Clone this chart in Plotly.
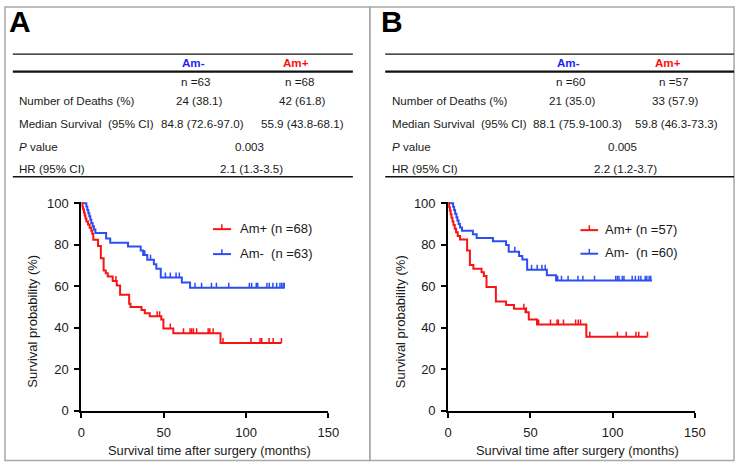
import numpy as np
import plotly.graph_objects as go

W, H = 747, 471
FONT = "Arial, 'Liberation Sans', sans-serif"
RED = "#f81414"
BLUE = "#2d4ef2"
HEAD_BLUE = "#1e1eff"
HEAD_RED = "#ff1010"
TXT = "#1a1a1a"

# ---------------- Panel A data ----------------
a_pos_label = "Am+ (n =68)"
a_neg_label = "Am-\u00a0 (n =63)"
a_pos_time = [0, 0.5, 1, 1.5, 2, 2.5, 3, 4, 5, 6, 6.6, 7.2, 10.1, 11.8, 13.5, 14.8, 16, 19,
              21.5, 23.5, 29, 29.8, 36.5, 38.5, 41.5, 48.5, 49.8, 55.8, 84.5]
a_pos_surv = [100, 98.5, 97.1, 95.6, 94.1, 92.6, 91.2, 89.7, 88.2, 86.8, 85.3, 82.4, 79.4, 73.5,
              67.6, 66.2, 64.7, 62.5, 60.3, 55.9, 51.5, 50.0, 48.5, 47.0, 45.5, 43.9, 39.6, 37.3, 32.6]
a_pos_end = 121.5
a_pos_censor = [21, 46, 47.5, 54, 62, 66, 67, 68, 70, 77, 78, 80, 86, 103, 108.5, 109.5,
                114, 116.5, 121.5]

a_neg_time = [0, 3, 3.6, 4.2, 4.8, 5.4, 6, 6.8, 7.6, 8.5, 15, 17.5, 28.3, 36, 37.5, 40, 44,
              45.5, 48.2, 61, 66]
a_neg_surv = [100, 98.4, 96.8, 95.2, 93.7, 92.1, 90.5, 88.9, 87.3, 85.7, 83.0, 80.9, 79.2,
              77.2, 75.0, 72.8, 70.6, 68.4, 64.2, 61.8, 59.3]
a_neg_end = 123.5
a_neg_censor = [38.5, 42, 51, 54, 57.5, 59.5, 69, 73, 79, 82, 89.5, 102, 103.4, 106.2, 107.1,
                112.7, 114.1, 116.3, 118.6, 120.6, 121.6, 122.6, 123.2]

# ---------------- Panel B data ----------------
b_pos_label = "Am+ (n =57)"
b_neg_label = "Am-\u00a0 (n =60)"
b_pos_time = [0, 0.5, 1, 1.5, 2, 2.6, 3.2, 4, 4.8, 5.8, 7.2, 11.5, 13.2, 15.3, 20.3, 21.7,
              23.3, 29, 35.2, 40, 47, 49, 54, 84]
b_pos_surv = [100, 98.2, 96.5, 94.7, 93.0, 91.2, 89.5, 87.7, 86.0, 84.2, 82.5, 77.2, 70.2,
              68.4, 66.7, 64.9, 59.6, 52.6, 50.9, 49.1, 47.4, 43.9, 41.5, 35.6]
b_pos_end = 121.2
b_pos_censor = [46, 47.5, 55, 62.2, 66.2, 67, 70.1, 77.5, 79.1, 80.5, 86.1, 102.9, 108.3,
                114.2, 115.9, 121.2]

b_neg_time = [0, 3, 3.6, 4.2, 5, 5.6, 6.3, 7.2, 8.4, 15, 17.3, 27.2, 35.2, 36.8, 43.1, 45.1,
              48, 60, 65.6]
b_neg_surv = [100, 98.3, 96.7, 95.0, 93.3, 91.7, 90.0, 88.3, 86.7, 85.0, 83.3, 81.7, 79.9,
              76.6, 74.6, 72.9, 67.9, 65.3, 62.7]
b_neg_end = 124
b_neg_censor = [40.5, 50.7, 54.1, 57, 59, 66.6, 68.9, 72.9, 78.9, 81.9, 89, 101.9, 102.9,
                103.9, 105.9, 106.9, 111.9, 113.8, 115.8, 117.2, 119.8, 120.8, 122.2, 123.2]

# ---------------- Tables ----------------
row_labels = ["Number of Deaths (%)", "Median Survival\u00a0 (95% CI)", "<i>P</i> value", "HR (95% CI)"]
col_heads = ["Am-", "Am+"]
a_neg_col = ["n =63", "24 (38.1)", "84.8 (72.6-97.0)"]
a_pos_col = ["n =68", "42 (61.8)", "55.9 (43.8-68.1)"]
a_common = ["0.003", "2.1 (1.3-3.5)"]
b_neg_col = ["n =60", "21 (35.0)", "88.1 (75.9-100.3)"]
b_pos_col = ["n =57", "33 (57.9)", "59.8 (46.3-73.3)"]
b_common = ["0.005", "2.2 (1.2-3.7)"]

x_ticks = [0, 50, 100, 150]
y_ticks = [0, 20, 40, 60, 80, 100]
x_title = "Survival time after surgery (months)"
y_title = "Survival probability (%)"


def px(x):
    return x / W


def py(y):
    return 1 - y / H


def step_xy(t, s, end):
    return list(t) + [end], list(s) + [s[-1]]


def surv_at(t, s, c):
    idx = np.searchsorted(np.array(t), np.array(c), side="right") - 1
    return list(np.array(s)[idx])


fig = go.Figure()


def add_curve(t, s, end, cens, color, xa, ya):
    x, y = step_xy(t, s, end)
    fig.add_trace(go.Scatter(x=x, y=y, mode="lines", line=dict(color=color, width=2, shape="hv"),
                             xaxis=xa, yaxis=ya, hoverinfo="skip", cliponaxis=False))
    fig.add_trace(go.Scatter(x=cens, y=surv_at(t, s, cens), mode="markers",
                             marker=dict(size=1, color=color, opacity=0),
                             error_y=dict(type="data", symmetric=False, array=[2.4] * len(cens),
                                          arrayminus=[0] * len(cens), width=0, thickness=1.5,
                                          color=color),
                             xaxis=xa, yaxis=ya, hoverinfo="skip", cliponaxis=False))


add_curve(a_neg_time, a_neg_surv, a_neg_end, a_neg_censor, BLUE, "x", "y")
add_curve(a_pos_time, a_pos_surv, a_pos_end, a_pos_censor, RED, "x", "y")
add_curve(b_neg_time, b_neg_surv, b_neg_end, b_neg_censor, BLUE, "x2", "y2")
add_curve(b_pos_time, b_pos_surv, b_pos_end, b_pos_censor, RED, "x2", "y2")

axis_common = dict(showline=True, linecolor="black", linewidth=2, ticks="outside", ticklen=5,
                   tickwidth=2, tickcolor="black", showgrid=False, zeroline=False,
                   tickfont=dict(family=FONT, size=13, color=TXT), fixedrange=True)
ydom = [py(417.0), py(201.6)]
fig.update_layout(
    xaxis=dict(domain=[px(79), px(331)], range=[0, 150], tickvals=x_ticks, anchor="y",
               ticklabelstandoff=4, **axis_common),
    yaxis=dict(domain=ydom, range=[0, 100.8], tickvals=y_ticks, anchor="x",
               ticklabelstandoff=3, **axis_common),
    xaxis2=dict(domain=[px(453.3), px(705)], range=[0, 150], tickvals=x_ticks, anchor="y2",
                ticklabelstandoff=4, **axis_common),
    yaxis2=dict(domain=ydom, range=[0, 100.8], tickvals=y_ticks, anchor="x2",
                ticklabelstandoff=3, **axis_common),
)

shapes = []
annotations = []


def hline(x0, x1, y, w, color="#111"):
    shapes.append(dict(type="line", xref="paper", yref="paper", x0=px(x0), x1=px(x1),
                       y0=py(y), y1=py(y), line=dict(color=color, width=w)))


def text(x, y, s, size=11.6, color=TXT, anchor="center", bold=False, yanchor="middle", angle=0):
    if bold:
        s = "<b>" + s + "</b>"
    if anchor == "left":
        x -= 3
    annotations.append(dict(x=px(x), y=py(y), xref="paper", yref="paper", text=s, showarrow=False,
                            xanchor=anchor, yanchor=yanchor, textangle=angle,
                            font=dict(family=FONT, size=size, color=color)))


# panel borders
shapes.append(dict(type="rect", xref="paper", yref="paper", x0=px(1), x1=px(373.3), y0=py(468.5),
                   y1=py(1), line=dict(color="#a9a9a9", width=1.5)))
shapes.append(dict(type="rect", xref="paper", yref="paper", x0=px(373.3), x1=px(745), y0=py(468.5),
                   y1=py(1), line=dict(color="#a9a9a9", width=1.5)))

row_y = [97.5, 121.5, 145, 167.5]


def table(off, letter, neg, pos, common, neg_x, pos_x, com_x, line_x1):
    text(off + 6, 16, letter, size=30, color="black", anchor="left", bold=True)
    hline(off + 9, line_x1, 49.7, 1.3)
    hline(off + 9, line_x1, 67.7, 2.2)
    hline(off + 9, line_x1, 176.0, 1.5)
    text(neg_x[0], 57.8, col_heads[0], color=HEAD_BLUE, bold=True)
    text(pos_x[0], 57.8, col_heads[1], color=HEAD_RED, bold=True)
    ys = [77.5, 97.5, 121.5]
    for i in range(3):
        text(neg_x[i + 1], ys[i], neg[i])
        text(pos_x[i + 1], ys[i], pos[i])
    for lab, y in zip(row_labels, row_y):
        text(off + 16.5, y, lab, anchor="left")
    text(com_x[0], row_y[2], common[0])
    text(com_x[1], row_y[3], common[1])


table(0, "A", a_neg_col, a_pos_col, a_common, [193.3, 195.3, 199.3, 202.7],
      [297.5, 302.0, 304.6, 305.0], [250.5, 252.8], 356)
table(380, "B", b_neg_col, b_pos_col, b_common, [575.7, 577.8, 580.5, 585.0],
      [677.5, 683.0, 685.0, 686.0], [631.2, 634.3], 745)


def legend(lx0, lx1, tick_x, text_x, y_red, y_blue, pos_lab, neg_lab):
    for y, col, lab in ((y_red, RED, pos_lab), (y_blue, BLUE, neg_lab)):
        shapes.append(dict(type="line", xref="paper", yref="paper", x0=px(lx0), x1=px(lx1),
                           y0=py(y), y1=py(y), line=dict(color=col, width=2)))
        shapes.append(dict(type="line", xref="paper", yref="paper", x0=px(tick_x), x1=px(tick_x),
                           y0=py(y), y1=py(y - 5), line=dict(color=col, width=1.5)))
        text(text_x, y - 1, lab, size=13, anchor="left")


legend(213.3, 231.7, 222.3, 241.5, 230, 255.7, a_pos_label, a_neg_label)
legend(588.3, 606.3, 597.3, 614, 231, 255.3, b_pos_label, b_neg_label)

# axis titles
text(210, 458, x_title, size=12.8)
text(585, 458, x_title, size=12.8)
text(29, 325, y_title, size=13, angle=-90)
text(404, 325, y_title, size=13, angle=-90)

fig.update_layout(width=W, height=H, autosize=False, margin=dict(l=0, r=0, t=0, b=0),
                  paper_bgcolor="white", plot_bgcolor="white", showlegend=False,
                  shapes=shapes, annotations=annotations)

fig.write_html("out.html", config={"displayModeBar": False, "responsive": False},
               post_script="document.body.style.margin='0';document.body.style.overflow='hidden';")
